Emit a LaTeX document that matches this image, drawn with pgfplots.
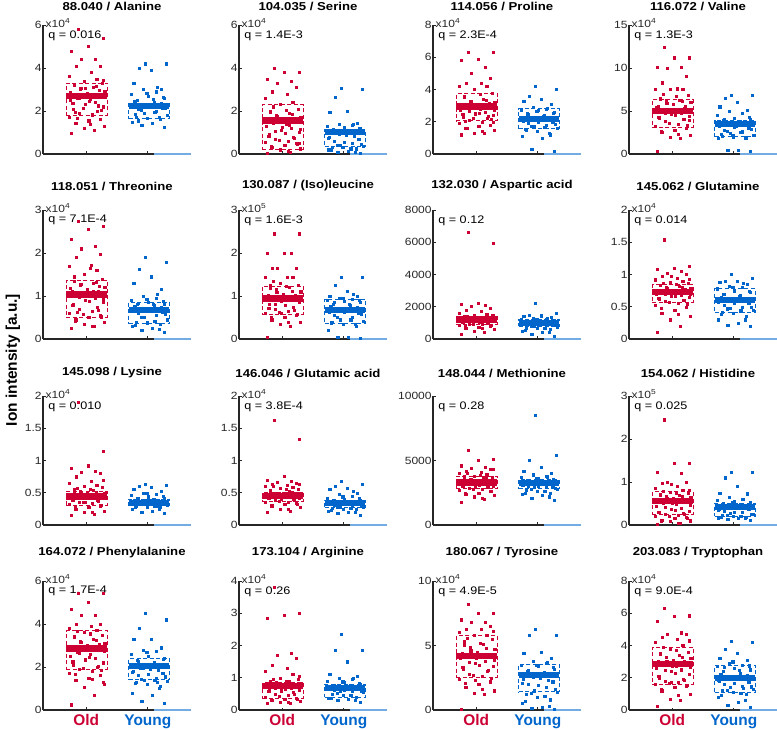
\documentclass[border=0pt]{standalone}
\usepackage{fontspec}
\setmainfont{Liberation Sans}
\newfontfamily\wfont{Liberation Sans}[FakeStretch=1.15]
\usepackage{pgfplots}
\pgfplotsset{compat=1.18}
\usepackage{pgfplotstable}
\definecolor{cold}{RGB}{204,0,51}
\definecolor{cyoung}{RGB}{0,102,204}
\definecolor{axc}{RGB}{38,38,38}

% each table: row j = horizontal jitter, row o = Old values, row y = Young values
\pgfplotstableread[header=false,row sep=\\]{
j -0.25 0.12 -0.05 0.28 -0.18 0.03 0.21 -0.29 0.08 -0.12 0.17 -0.22 0.26 -0.02 0.14 -0.27 0.05 -0.15 0.23 -0.08 0.19 -0.24 0.01 0.29 -0.11 0.10 -0.20 0.25 -0.04 0.16 -0.28 0.07 -0.17 0.22 -0.09 0.13 -0.26 0.02 0.27 -0.14 0.09 -0.19 0.24 -0.06 0.18 -0.23 0.04 -0.13 0.28 -0.01 0.11 -0.27 0.20 -0.10 0.15 -0.21 0.06 -0.16 0.26 -0.03\\
o 0.95 1.1 1.2 1.3 1.45 1.55 1.6 1.7 1.8 1.9 2.0 2.1 2.2 2.3 2.4 2.5 2.55 2.6 2.65 2.7 2.75 2.8 2.85 2.9 3.0 3.1 3.2 3.3 3.4 3.5 3.6 3.8 4.1 4.1 4.4 4.4 4.8 5.0 5.4 5.8 1.85 1.95 2.05 2.15 2.25 2.35 2.45 2.6 2.68 2.72 2.78 2.88 2.95 3.05 3.15 3.25 1.4 1.65 3.45 3.05\\
y 1.25 1.35 1.45 1.5 1.6 1.65 1.7 1.8 1.9 2.0 2.1 2.15 2.2 2.22 2.25 2.27 2.3 2.32 2.35 2.4 2.5 2.6 2.7 2.8 2.9 3.0 3.0 3.3 3.9 4.0 4.2 4.2 1.7 1.85 1.95 2.05 2.12 2.18 2.24 2.28 2.33 2.38 2.45 2.55 1.55 2.65 2.85 3.1 nan nan nan nan nan nan nan nan nan nan nan nan\\
}\rA
\pgfplotstableread[header=false,row sep=\\]{
j -0.25 0.12 -0.05 0.28 -0.18 0.03 0.21 -0.29 0.08 -0.12 0.17 -0.22 0.26 -0.02 0.14 -0.27 0.05 -0.15 0.23 -0.08 0.19 -0.24 0.01 0.29 -0.11 0.10 -0.20 0.25 -0.04 0.16 -0.28 0.07 -0.17 0.22 -0.09 0.13 -0.26 0.02 0.27 -0.14 0.09 -0.19 0.24 -0.06 0.18 -0.23 0.04 -0.13 0.28 -0.01 0.11 -0.27 0.20 -0.10 0.15 -0.21 0.06 -0.16 0.26 -0.03\\
o 0.05 0.1 0.2 0.25 0.3 0.4 0.5 0.55 0.6 0.7 0.8 0.9 1.0 1.1 1.2 1.3 1.4 1.45 1.5 1.55 1.6 1.62 1.65 1.7 1.8 1.9 2.0 2.1 2.3 2.4 2.6 2.8 2.9 3.1 3.3 3.4 3.5 3.8 3.8 4.0 0.15 0.35 0.45 0.65 0.75 0.85 0.95 1.05 1.15 1.25 1.35 1.52 1.58 1.75 1.85 1.95 2.05 2.2 0.5 1.6\\
y 0.05 0.1 0.15 0.2 0.25 0.3 0.3 0.35 0.4 0.5 0.6 0.7 0.8 0.9 0.95 1.0 1.0 1.02 1.05 1.1 1.15 1.2 1.25 1.3 1.35 1.4 1.45 1.95 2.0 2.65 3.0 3.05 0.1 0.2 0.25 0.4 0.45 0.55 0.75 0.85 0.92 0.98 1.03 1.08 1.12 1.2 0.3 1.4 nan nan nan nan nan nan nan nan nan nan nan nan\\
}\rB
\pgfplotstableread[header=false,row sep=\\]{
j -0.25 0.12 -0.05 0.28 -0.18 0.03 0.21 -0.29 0.08 -0.12 0.17 -0.22 0.26 -0.02 0.14 -0.27 0.05 -0.15 0.23 -0.08 0.19 -0.24 0.01 0.29 -0.11 0.10 -0.20 0.25 -0.04 0.16 -0.28 0.07 -0.17 0.22 -0.09 0.13 -0.26 0.02 0.27 -0.14 0.09 -0.19 0.24 -0.06 0.18 -0.23 0.04 -0.13 0.28 -0.01 0.11 -0.27 0.20 -0.10 0.15 -0.21 0.06 -0.16 0.26 -0.03\\
o 1.2 1.3 1.3 1.5 1.6 1.7 1.8 1.9 2.0 2.1 2.2 2.3 2.4 2.5 2.6 2.7 2.8 2.85 2.9 2.95 3.0 3.05 3.1 3.2 3.3 3.4 3.6 3.8 4.0 4.2 4.2 4.4 4.4 4.7 5.0 5.4 5.8 5.9 6.3 6.3 1.4 2.05 2.15 2.25 2.35 2.45 2.55 2.65 2.75 2.9 2.97 3.02 3.15 3.25 3.35 3.5 3.7 1.6 2.0 3.0\\
y 0.2 0.3 1.0 1.1 1.2 1.4 1.5 1.6 1.7 1.8 1.9 2.0 2.05 2.1 2.15 2.2 2.2 2.25 2.3 2.4 2.5 2.6 2.7 2.75 2.8 2.9 3.1 3.3 3.4 3.6 4.0 4.2 1.3 1.55 1.65 1.75 1.85 1.95 2.1 2.12 2.18 2.22 2.28 2.35 2.45 2.55 2.65 2.85 nan nan nan nan nan nan nan nan nan nan nan nan\\
}\rC
\pgfplotstableread[header=false,row sep=\\]{
j -0.25 0.12 -0.05 0.28 -0.18 0.03 0.21 -0.29 0.08 -0.12 0.17 -0.22 0.26 -0.02 0.14 -0.27 0.05 -0.15 0.23 -0.08 0.19 -0.24 0.01 0.29 -0.11 0.10 -0.20 0.25 -0.04 0.16 -0.28 0.07 -0.17 0.22 -0.09 0.13 -0.26 0.02 0.27 -0.14 0.09 -0.19 0.24 -0.06 0.18 -0.23 0.04 -0.13 0.28 -0.01 0.11 -0.27 0.20 -0.10 0.15 -0.21 0.06 -0.16 0.26 -0.03\\
o 0.3 1.8 2.0 2.2 2.5 2.8 3.0 3.2 3.5 3.8 4.0 4.2 4.4 4.6 4.8 4.9 5.0 5.0 5.1 5.2 5.3 5.5 5.8 6.0 6.2 6.3 6.5 6.8 7.5 7.5 7.5 7.6 8.3 9.1 10.0 10.1 10.1 11.2 11.2 12.4 2.3 2.7 3.3 3.6 4.1 4.3 4.5 4.7 4.95 5.05 5.15 5.4 5.6 5.9 6.1 6.4 6.7 7.0 3.9 4.85\\
y 0.3 0.4 0.4 1.8 1.9 2.0 2.1 2.2 2.4 2.6 2.8 3.0 3.2 3.3 3.4 3.5 3.5 3.6 3.7 3.8 3.9 4.0 4.2 4.5 4.8 5.0 5.1 5.5 6.0 6.5 6.8 6.8 1.9 2.3 2.5 2.7 2.9 3.1 3.35 3.45 3.55 3.65 3.75 3.85 4.1 4.3 2.2 3.5 nan nan nan nan nan nan nan nan nan nan nan nan\\
}\rD
\pgfplotstableread[header=false,row sep=\\]{
j -0.25 0.12 -0.05 0.28 -0.18 0.03 0.21 -0.29 0.08 -0.12 0.17 -0.22 0.26 -0.02 0.14 -0.27 0.05 -0.15 0.23 -0.08 0.19 -0.24 0.01 0.29 -0.11 0.10 -0.20 0.25 -0.04 0.16 -0.28 0.07 -0.17 0.22 -0.09 0.13 -0.26 0.02 0.27 -0.14 0.09 -0.19 0.24 -0.06 0.18 -0.23 0.04 -0.13 0.28 -0.01 0.11 -0.27 0.20 -0.10 0.15 -0.21 0.06 -0.16 0.26 -0.03\\
o 0.25 0.3 0.35 0.4 0.45 0.5 0.55 0.6 0.65 0.7 0.75 0.8 0.85 0.9 0.95 1.0 1.0 1.02 1.05 1.08 1.1 1.12 1.15 1.2 1.25 1.3 1.35 1.4 1.5 1.6 1.7 1.72 1.9 1.98 2.1 2.15 2.33 2.55 2.63 2.75 0.3 0.42 0.52 0.58 0.68 0.78 0.88 0.98 1.03 1.06 1.1 1.18 1.22 1.28 1.33 1.45 1.65 0.62 0.92 1.04\\
y 0.15 0.2 0.25 0.3 0.35 0.38 0.4 0.45 0.5 0.55 0.6 0.62 0.65 0.68 0.68 0.7 0.7 0.72 0.75 0.78 0.8 0.82 0.85 0.9 0.95 1.0 1.15 1.3 1.45 1.62 1.78 1.9 0.22 0.32 0.42 0.5 0.58 0.64 0.66 0.69 0.71 0.74 0.76 0.8 0.84 0.88 0.92 1.05 nan nan nan nan nan nan nan nan nan nan nan nan\\
}\rE
\pgfplotstableread[header=false,row sep=\\]{
j -0.25 0.12 -0.05 0.28 -0.18 0.03 0.21 -0.29 0.08 -0.12 0.17 -0.22 0.26 -0.02 0.14 -0.27 0.05 -0.15 0.23 -0.08 0.19 -0.24 0.01 0.29 -0.11 0.10 -0.20 0.25 -0.04 0.16 -0.28 0.07 -0.17 0.22 -0.09 0.13 -0.26 0.02 0.27 -0.14 0.09 -0.19 0.24 -0.06 0.18 -0.23 0.04 -0.13 0.28 -0.01 0.11 -0.27 0.20 -0.10 0.15 -0.21 0.06 -0.16 0.26 -0.03\\
o 0.05 0.3 0.35 0.4 0.45 0.5 0.55 0.6 0.65 0.7 0.75 0.8 0.85 0.88 0.9 0.92 0.94 0.95 0.96 0.98 1.0 1.02 1.05 1.1 1.15 1.2 1.25 1.25 1.3 1.43 1.43 1.43 1.65 1.65 1.65 2.0 2.0 2.0 2.45 2.45 0.4 0.5 0.58 0.62 0.68 0.72 0.78 0.82 0.9 0.93 0.97 0.99 1.03 1.08 1.12 1.18 1.22 1.35 0.95 0.6\\
y 0.03 0.05 0.05 0.2 0.3 0.35 0.4 0.42 0.45 0.5 0.55 0.6 0.62 0.65 0.68 0.68 0.7 0.72 0.75 0.78 0.8 0.85 0.88 0.9 0.92 0.95 1.0 1.0 1.12 1.25 1.43 1.43 0.35 0.38 0.45 0.5 0.58 0.63 0.66 0.69 0.7 0.73 0.76 0.82 0.86 0.9 0.95 1.05 nan nan nan nan nan nan nan nan nan nan nan nan\\
}\rF
\pgfplotstableread[header=false,row sep=\\]{
j -0.25 0.12 -0.05 0.28 -0.18 0.03 0.21 -0.29 0.08 -0.12 0.17 -0.22 0.26 -0.02 0.14 -0.27 0.05 -0.15 0.23 -0.08 0.19 -0.24 0.01 0.29 -0.11 0.10 -0.20 0.25 -0.04 0.16 -0.28 0.07 -0.17 0.22 -0.09 0.13 -0.26 0.02 0.27 -0.14 0.09 -0.19 0.24 -0.06 0.18 -0.23 0.04 -0.13 0.28 -0.01 0.11 -0.27 0.20 -0.10 0.15 -0.21 0.06 -0.16 0.26 -0.03\\
o 300 400 500 600 700 750 800 850 900 950 1000 1050 1080 1100 1120 1150 1180 1200 1200 1220 1250 1280 1300 1320 1350 1380 1400 1450 1500 1550 1600 1700 1800 1900 2050 2100 2150 2200 5950 6600 650 780 880 920 980 1020 1060 1090 1140 1170 1190 1210 1230 1260 1290 1330 1370 1420 1480 1200\\
y 200 300 400 500 600 650 700 750 800 850 900 920 950 980 1000 1000 1020 1050 1080 1100 1120 1150 1180 1200 1250 1300 1350 1400 1450 1500 1600 2200 450 550 700 780 850 880 940 970 990 1010 1040 1070 1110 1160 1220 1320 nan nan nan nan nan nan nan nan nan nan nan nan\\
}\rG
\pgfplotstableread[header=false,row sep=\\]{
j -0.25 0.12 -0.05 0.28 -0.18 0.03 0.21 -0.29 0.08 -0.12 0.17 -0.22 0.26 -0.02 0.14 -0.27 0.05 -0.15 0.23 -0.08 0.19 -0.24 0.01 0.29 -0.11 0.10 -0.20 0.25 -0.04 0.16 -0.28 0.07 -0.17 0.22 -0.09 0.13 -0.26 0.02 0.27 -0.14 0.09 -0.19 0.24 -0.06 0.18 -0.23 0.04 -0.13 0.28 -0.01 0.11 -0.27 0.20 -0.10 0.15 -0.21 0.06 -0.16 0.26 -0.03\\
o 0.1 0.2 0.3 0.35 0.4 0.45 0.5 0.52 0.55 0.58 0.6 0.62 0.65 0.67 0.68 0.7 0.71 0.72 0.72 0.73 0.74 0.75 0.76 0.78 0.8 0.82 0.84 0.86 0.88 0.9 0.92 0.95 0.98 1.0 1.02 1.05 1.08 1.1 1.13 1.54 0.38 0.48 0.54 0.57 0.6 0.63 0.66 0.69 0.7 0.71 0.73 0.74 0.77 0.79 0.81 0.83 0.85 0.87 0.93 0.97\\
y 0.2 0.22 0.25 0.3 0.35 0.4 0.42 0.45 0.48 0.5 0.53 0.55 0.58 0.6 0.6 0.61 0.62 0.63 0.65 0.68 0.7 0.72 0.75 0.78 0.8 0.82 0.85 0.88 0.9 0.9 0.95 1.0 0.3 0.38 0.44 0.47 0.5 0.55 0.57 0.59 0.61 0.62 0.64 0.66 0.7 0.74 0.8 0.86 nan nan nan nan nan nan nan nan nan nan nan nan\\
}\rH
\pgfplotstableread[header=false,row sep=\\]{
j -0.25 0.12 -0.05 0.28 -0.18 0.03 0.21 -0.29 0.08 -0.12 0.17 -0.22 0.26 -0.02 0.14 -0.27 0.05 -0.15 0.23 -0.08 0.19 -0.24 0.01 0.29 -0.11 0.10 -0.20 0.25 -0.04 0.16 -0.28 0.07 -0.17 0.22 -0.09 0.13 -0.26 0.02 0.27 -0.14 0.09 -0.19 0.24 -0.06 0.18 -0.23 0.04 -0.13 0.28 -0.01 0.11 -0.27 0.20 -0.10 0.15 -0.21 0.06 -0.16 0.26 -0.03\\
o 0.15 0.17 0.2 0.22 0.25 0.28 0.3 0.32 0.34 0.36 0.38 0.4 0.41 0.42 0.43 0.43 0.44 0.44 0.45 0.46 0.47 0.48 0.5 0.5 0.52 0.54 0.56 0.58 0.6 0.62 0.65 0.68 0.75 0.8 0.82 0.83 0.88 0.92 1.15 1.9 0.2 0.27 0.31 0.35 0.37 0.39 0.41 0.42 0.43 0.44 0.45 0.46 0.47 0.49 0.51 0.53 0.55 0.57 0.7 0.35\\
y 0.18 0.2 0.22 0.25 0.27 0.28 0.3 0.31 0.32 0.33 0.34 0.34 0.35 0.35 0.36 0.37 0.38 0.38 0.39 0.4 0.41 0.42 0.44 0.46 0.48 0.5 0.52 0.55 0.58 0.6 0.62 0.64 0.24 0.28 0.3 0.32 0.33 0.34 0.35 0.35 0.36 0.37 0.38 0.4 0.42 0.45 0.5 0.3 nan nan nan nan nan nan nan nan nan nan nan nan\\
}\rI
\pgfplotstableread[header=false,row sep=\\]{
j -0.25 0.12 -0.05 0.28 -0.18 0.03 0.21 -0.29 0.08 -0.12 0.17 -0.22 0.26 -0.02 0.14 -0.27 0.05 -0.15 0.23 -0.08 0.19 -0.24 0.01 0.29 -0.11 0.10 -0.20 0.25 -0.04 0.16 -0.28 0.07 -0.17 0.22 -0.09 0.13 -0.26 0.02 0.27 -0.14 0.09 -0.19 0.24 -0.06 0.18 -0.23 0.04 -0.13 0.28 -0.01 0.11 -0.27 0.20 -0.10 0.15 -0.21 0.06 -0.16 0.26 -0.03\\
o 0.2 0.22 0.25 0.28 0.3 0.32 0.34 0.35 0.36 0.38 0.4 0.41 0.42 0.43 0.44 0.45 0.45 0.46 0.46 0.47 0.48 0.48 0.49 0.5 0.5 0.52 0.53 0.55 0.57 0.58 0.6 0.62 0.64 0.65 0.66 0.68 0.7 0.76 1.33 1.62 0.24 0.3 0.33 0.37 0.39 0.41 0.43 0.44 0.45 0.46 0.47 0.48 0.49 0.5 0.51 0.54 0.56 0.6 0.63 0.4\\
y 0.15 0.18 0.2 0.22 0.24 0.25 0.26 0.27 0.28 0.3 0.31 0.32 0.33 0.33 0.34 0.34 0.35 0.35 0.36 0.37 0.38 0.39 0.4 0.42 0.45 0.48 0.5 0.55 0.57 0.6 0.64 0.68 0.2 0.23 0.26 0.28 0.3 0.32 0.33 0.34 0.34 0.35 0.36 0.37 0.38 0.41 0.44 0.52 nan nan nan nan nan nan nan nan nan nan nan nan\\
}\rJ
\pgfplotstableread[header=false,row sep=\\]{
j -0.25 0.12 -0.05 0.28 -0.18 0.03 0.21 -0.29 0.08 -0.12 0.17 -0.22 0.26 -0.02 0.14 -0.27 0.05 -0.15 0.23 -0.08 0.19 -0.24 0.01 0.29 -0.11 0.10 -0.20 0.25 -0.04 0.16 -0.28 0.07 -0.17 0.22 -0.09 0.13 -0.26 0.02 0.27 -0.14 0.09 -0.19 0.24 -0.06 0.18 -0.23 0.04 -0.13 0.28 -0.01 0.11 -0.27 0.20 -0.10 0.15 -0.21 0.06 -0.16 0.26 -0.03\\
o 1800 2000 2200 2300 2400 2500 2600 2700 2800 2850 2900 3000 3050 3100 3150 3200 3250 3300 3300 3350 3350 3400 3450 3500 3550 3600 3650 3700 3800 3900 4000 4100 4200 4300 4400 4500 4600 5050 5100 5800 2100 2450 2650 2750 2900 3000 3100 3200 3280 3320 3380 3420 3480 3550 3650 3750 3850 4050 4350 2950\\
y 1900 2100 2300 2400 2500 2600 2700 2800 2900 2950 3000 3050 3100 3150 3200 3220 3250 3300 3350 3400 3450 3500 3600 3700 3800 3900 4000 4200 4500 5000 5400 8500 2200 2450 2650 2750 2850 3000 3100 3180 3240 3280 3320 3380 3450 3550 3650 3750 nan nan nan nan nan nan nan nan nan nan nan nan\\
}\rK
\pgfplotstableread[header=false,row sep=\\]{
j -0.25 0.12 -0.05 0.28 -0.18 0.03 0.21 -0.29 0.08 -0.12 0.17 -0.22 0.26 -0.02 0.14 -0.27 0.05 -0.15 0.23 -0.08 0.19 -0.24 0.01 0.29 -0.11 0.10 -0.20 0.25 -0.04 0.16 -0.28 0.07 -0.17 0.22 -0.09 0.13 -0.26 0.02 0.27 -0.14 0.09 -0.19 0.24 -0.06 0.18 -0.23 0.04 -0.13 0.28 -0.01 0.11 -0.27 0.20 -0.10 0.15 -0.21 0.06 -0.16 0.26 -0.03\\
o 0.02 0.05 0.08 0.1 0.12 0.15 0.18 0.2 0.22 0.25 0.28 0.3 0.33 0.36 0.4 0.44 0.48 0.52 0.55 0.56 0.58 0.6 0.62 0.65 0.68 0.7 0.72 0.75 0.77 0.8 0.85 0.9 0.98 1.0 1.0 1.2 1.22 1.43 1.43 2.45 0.05 0.1 0.15 0.2 0.25 0.3 0.35 0.42 0.46 0.5 0.54 0.57 0.59 0.63 0.66 0.7 0.74 0.78 0.82 0.95\\
y 0.12 0.14 0.15 0.17 0.18 0.2 0.22 0.25 0.28 0.3 0.33 0.36 0.38 0.4 0.42 0.43 0.44 0.45 0.46 0.48 0.5 0.52 0.55 0.58 0.6 0.65 0.73 0.75 0.9 1.1 1.23 1.23 0.15 0.18 0.2 0.23 0.26 0.3 0.35 0.39 0.41 0.42 0.43 0.45 0.47 0.49 0.52 0.6 nan nan nan nan nan nan nan nan nan nan nan nan\\
}\rL
\pgfplotstableread[header=false,row sep=\\]{
j -0.25 0.12 -0.05 0.28 -0.18 0.03 0.21 -0.29 0.08 -0.12 0.17 -0.22 0.26 -0.02 0.14 -0.27 0.05 -0.15 0.23 -0.08 0.19 -0.24 0.01 0.29 -0.11 0.10 -0.20 0.25 -0.04 0.16 -0.28 0.07 -0.17 0.22 -0.09 0.13 -0.26 0.02 0.27 -0.14 0.09 -0.19 0.24 -0.06 0.18 -0.23 0.04 -0.13 0.28 -0.01 0.11 -0.27 0.20 -0.10 0.15 -0.21 0.06 -0.16 0.26 -0.03\\
o 0.25 0.7 1.05 1.2 1.4 1.5 1.6 1.7 1.8 1.9 2.0 2.1 2.2 2.3 2.4 2.5 2.6 2.7 2.8 2.85 2.9 2.95 3.0 3.1 3.2 3.3 3.4 3.5 3.6 3.7 3.8 3.9 4.0 4.0 4.4 4.4 4.7 5.0 5.45 5.45 1.45 1.65 1.85 1.95 2.05 2.25 2.45 2.65 2.75 2.82 2.88 2.92 3.05 3.15 3.25 3.45 3.55 3.65 1.3 2.35\\
y 0.3 0.4 0.7 0.8 1.1 1.2 1.3 1.35 1.4 1.5 1.6 1.7 1.8 1.9 1.95 2.0 2.05 2.1 2.15 2.2 2.3 2.4 2.5 2.6 2.75 2.8 2.9 3.3 3.3 3.8 4.2 4.5 1.0 1.25 1.4 1.45 1.55 1.65 1.75 1.85 1.97 2.02 2.08 2.12 2.25 2.35 2.7 1.3 nan nan nan nan nan nan nan nan nan nan nan nan\\
}\rM
\pgfplotstableread[header=false,row sep=\\]{
j -0.25 0.12 -0.05 0.28 -0.18 0.03 0.21 -0.29 0.08 -0.12 0.17 -0.22 0.26 -0.02 0.14 -0.27 0.05 -0.15 0.23 -0.08 0.19 -0.24 0.01 0.29 -0.11 0.10 -0.20 0.25 -0.04 0.16 -0.28 0.07 -0.17 0.22 -0.09 0.13 -0.26 0.02 0.27 -0.14 0.09 -0.19 0.24 -0.06 0.18 -0.23 0.04 -0.13 0.28 -0.01 0.11 -0.27 0.20 -0.10 0.15 -0.21 0.06 -0.16 0.26 -0.03\\
o 0.2 0.22 0.25 0.28 0.3 0.33 0.36 0.4 0.45 0.5 0.55 0.6 0.62 0.65 0.68 0.7 0.7 0.72 0.74 0.75 0.76 0.78 0.8 0.82 0.85 0.88 0.9 0.95 1.0 1.1 1.2 1.3 1.4 1.6 1.7 1.75 2.85 2.95 3.0 3.8 0.25 0.3 0.35 0.42 0.5 0.58 0.64 0.68 0.71 0.73 0.75 0.76 0.77 0.79 0.81 0.84 0.9 0.97 1.05 0.6\\
y 0.25 0.3 0.33 0.36 0.4 0.45 0.5 0.55 0.58 0.6 0.62 0.65 0.67 0.68 0.69 0.7 0.71 0.72 0.74 0.76 0.78 0.8 0.85 0.9 0.95 1.0 1.05 1.1 1.5 1.85 1.85 2.35 0.3 0.38 0.45 0.52 0.58 0.63 0.66 0.68 0.7 0.71 0.73 0.75 0.78 0.82 0.88 1.0 nan nan nan nan nan nan nan nan nan nan nan nan\\
}\rN
\pgfplotstableread[header=false,row sep=\\]{
j -0.25 0.12 -0.05 0.28 -0.18 0.03 0.21 -0.29 0.08 -0.12 0.17 -0.22 0.26 -0.02 0.14 -0.27 0.05 -0.15 0.23 -0.08 0.19 -0.24 0.01 0.29 -0.11 0.10 -0.20 0.25 -0.04 0.16 -0.28 0.07 -0.17 0.22 -0.09 0.13 -0.26 0.02 0.27 -0.14 0.09 -0.19 0.24 -0.06 0.18 -0.23 0.04 -0.13 0.28 -0.01 0.11 -0.27 0.20 -0.10 0.15 -0.21 0.06 -0.16 0.26 -0.03\\
o 0.1 1.2 1.3 1.5 1.8 2.0 2.2 2.4 2.6 2.8 3.0 3.2 3.4 3.6 3.8 4.0 4.1 4.15 4.2 4.25 4.3 4.4 4.5 4.7 4.9 5.1 5.3 5.5 5.8 5.8 6.0 6.3 6.3 6.5 6.8 6.8 7.0 7.5 7.5 8.2 1.6 2.1 2.5 2.7 3.1 3.3 3.5 3.7 3.9 4.05 4.2 4.3 4.35 4.6 4.8 5.0 5.2 5.6 6.1 2.3\\
y 0.1 0.15 0.2 0.5 0.8 1.0 1.2 1.4 1.5 1.8 2.0 2.2 2.4 2.5 2.6 2.65 2.7 2.75 2.8 2.9 3.0 3.2 3.4 3.5 3.6 3.8 4.0 4.4 4.5 5.8 5.8 6.3 0.3 0.7 1.1 1.3 1.6 1.9 2.1 2.3 2.55 2.68 2.72 2.85 3.1 3.3 3.45 3.7 nan nan nan nan nan nan nan nan nan nan nan nan\\
}\rO
\pgfplotstableread[header=false,row sep=\\]{
j -0.25 0.12 -0.05 0.28 -0.18 0.03 0.21 -0.29 0.08 -0.12 0.17 -0.22 0.26 -0.02 0.14 -0.27 0.05 -0.15 0.23 -0.08 0.19 -0.24 0.01 0.29 -0.11 0.10 -0.20 0.25 -0.04 0.16 -0.28 0.07 -0.17 0.22 -0.09 0.13 -0.26 0.02 0.27 -0.14 0.09 -0.19 0.24 -0.06 0.18 -0.23 0.04 -0.13 0.28 -0.01 0.11 -0.27 0.20 -0.10 0.15 -0.21 0.06 -0.16 0.26 -0.03\\
o 0.25 0.6 0.7 1.0 1.2 1.4 1.5 1.6 1.7 1.8 1.9 2.0 2.2 2.4 2.5 2.6 2.7 2.8 2.85 2.9 3.0 3.0 3.1 3.2 3.3 3.4 3.5 3.6 3.8 4.0 4.2 4.4 4.5 4.7 4.7 4.8 5.5 5.8 5.85 6.3 0.9 1.3 1.55 1.65 1.85 2.1 2.3 2.45 2.65 2.75 2.82 2.9 2.95 3.05 3.25 3.45 3.7 3.9 4.3 1.75\\
y 0.2 0.3 0.5 0.8 1.0 1.1 1.2 1.3 1.4 1.5 1.6 1.7 1.8 1.9 1.95 2.0 2.05 2.1 2.2 2.3 2.4 2.5 2.6 2.7 2.8 2.9 3.1 3.2 3.5 3.8 4.2 4.25 0.6 0.9 1.05 1.25 1.45 1.65 1.85 1.97 2.02 2.15 2.25 2.45 2.65 2.75 3.0 1.35 nan nan nan nan nan nan nan nan nan nan nan nan\\
}\rP
\pgfplotstabletranspose[colnames from=0]\tA\rA
\pgfplotstabletranspose[colnames from=0]\tB\rB
\pgfplotstabletranspose[colnames from=0]\tC\rC
\pgfplotstabletranspose[colnames from=0]\tD\rD
\pgfplotstabletranspose[colnames from=0]\tE\rE
\pgfplotstabletranspose[colnames from=0]\tF\rF
\pgfplotstabletranspose[colnames from=0]\tG\rG
\pgfplotstabletranspose[colnames from=0]\tH\rH
\pgfplotstabletranspose[colnames from=0]\tI\rI
\pgfplotstabletranspose[colnames from=0]\tJ\rJ
\pgfplotstabletranspose[colnames from=0]\tK\rK
\pgfplotstabletranspose[colnames from=0]\tL\rL
\pgfplotstabletranspose[colnames from=0]\tM\rM
\pgfplotstabletranspose[colnames from=0]\tN\rN
\pgfplotstabletranspose[colnames from=0]\tO\rO
\pgfplotstabletranspose[colnames from=0]\tP\rP

\pgfplotsset{
  panel/.style={
    scale only axis, width=148bp, height=129bp,
    anchor=south west,
    xmin=0.3, xmax=2.7, ymin=0,
    axis x line*=bottom, axis y line*=left,
    axis line style={axc, line width=1.1bp, -},
    xtick={1,2}, xticklabels={},
    tick style={axc, line width=0.9bp},
    major tick length=2.5bp,
    tick align=inside,
    yticklabel style={font=\wfont\fontsize{10.5}{12}\selectfont, text=axc, inner sep=1.2bp},
    /pgf/number format/assume math mode=true,
    /pgf/number format/1000 sep={},
    scaled y ticks=false,
    title style={font=\wfont\bfseries\fontsize{11.5}{13}\selectfont, at={(0.5,1)}, anchor=center, xshift=-5bp},
    clip=false,
  },
  r1/.style={title style={yshift=12.5bp}},
  r2/.style={title style={yshift=18bp}},
  r3/.style={title style={yshift=17bp}},
  r4/.style={title style={yshift=22bp},
    xticklabels={\textcolor{cold}{Old},\textcolor{cyoung}{Young}},
    xticklabel style={font=\bfseries\fontsize{15.5}{17}\selectfont, inner sep=1bp, yshift=-3.5bp}},
}

% box (dashed IQR) and median bar: Old q1, median, q3, Young q1, median, q3
\newcommand\bx[6]{%
  \addplot[cyoung!55, line width=1.1bp] coordinates {(2.1,0) (2.7,0)};
  \addplot[cold, line width=0.9bp, dash pattern=on 4bp off 2.5bp] coordinates {(0.68,#1) (1.34,#1) (1.34,#3) (0.68,#3) (0.68,#1)};
  \addplot[cold, line width=6.5bp] coordinates {(0.68,#2) (1.34,#2)};
  \addplot[cyoung, line width=0.9bp, dash pattern=on 4bp off 2.5bp] coordinates {(1.69,#4) (2.35,#4) (2.35,#6) (1.69,#6) (1.69,#4)};
  \addplot[cyoung, line width=6bp] coordinates {(1.69,#5) (2.35,#5)};
}
\newcommand\pts[1]{%
  \addplot[only marks, mark=square*, mark size=1.05bp, mark options={line width=0.3bp}, cold] table[x expr=1.01+\thisrow{j}, y=o] {#1};
  \addplot[only marks, mark=square*, mark size=1.05bp, mark options={line width=0.3bp}, cyoung] table[x expr=2.02-\thisrow{j}, y=y] {#1};
}
\newcommand\mult[1]{\node[anchor=west, inner sep=0, xshift=2.5bp, yshift=2bp, text=axc, font=\wfont\fontsize{10.5}{12}\selectfont] at (rel axis cs:0,1) {x10\textsuperscript{#1}};}
\newcommand\qq[1]{\node[anchor=west, inner sep=0, font=\wfont\fontsize{11}{13}\selectfont] at (rel axis cs:0.035,0.92) {q = #1};}

\begin{document}
\begin{tikzpicture}
\useasboundingbox (0,0) rectangle (777bp,730bp);
% ---- row 1
\begin{axis}[panel, r1, at={(43bp,576bp)}, title={88.040 / Alanine}, ymax=6, ytick={0,2,4,6}]
\bx{1.8}{2.7}{3.3}{1.64}{2.25}{2.37}\pts{\tA}\mult{4}\qq{0.016}
\end{axis}
\begin{axis}[panel, r1, at={(239bp,576bp)}, title={104.035 / Serine}, ymax=6, ytick={0,2,4,6}]
\bx{0.2}{1.55}{2.3}{0.33}{1.0}{1.15}\pts{\tB}\mult{4}\qq{1.4E-3}
\end{axis}
\begin{axis}[panel, r1, at={(433bp,576bp)}, title={114.056 / Proline}, ymax=8, ytick={0,2,4,6,8}]
\bx{2.05}{2.95}{3.77}{1.58}{2.15}{2.8}\pts{\tC}\mult{4}\qq{2.3E-4}
\end{axis}
\begin{axis}[panel, r1, at={(629bp,576bp)}, title={116.072 / Valine}, ymax=15, ytick={0,5,10,15}]
\bx{3.1}{5.0}{6.3}{2.0}{3.5}{3.9}\pts{\tD}\mult{4}\qq{1.3E-3}
\end{axis}
% ---- row 2
\begin{axis}[panel, r2, at={(43bp,391bp)}, title={118.051 / Threonine}, ymax=3, ytick={0,1,2,3}]
\bx{0.51}{1.03}{1.37}{0.35}{0.68}{0.86}\pts{\tE}\mult{4}\qq{7.1E-4}
\end{axis}
\begin{axis}[panel, r2, at={(239bp,391bp)}, title={130.087 / (Iso)leucine}, ymax=3, ytick={0,1,2,3}]
\bx{0.57}{0.94}{1.23}{0.37}{0.68}{0.92}\pts{\tF}\mult{5}\qq{1.6E-3}
\end{axis}
\begin{axis}[panel, r2, at={(433bp,391bp)}, title={132.030 / Aspartic acid}, ymax=8000, ytick={0,2000,4000,6000,8000}]
\bx{900}{1200}{1400}{800}{1000}{1200}\pts{\tG}\qq{0.12}
\end{axis}
\begin{axis}[panel, r2, at={(629bp,391bp)}, title={145.062 / Glutamine}, ymax=2, ytick={0,0.5,1,1.5,2}]
\bx{0.57}{0.725}{0.84}{0.41}{0.6}{0.78}\pts{\tH}\mult{4}\qq{0.014}
\end{axis}
% ---- row 3
\begin{axis}[panel, r3, at={(43bp,205bp)}, title={145.098 / Lysine}, ymax=2, ytick={0,0.5,1,1.5,2}]
\bx{0.31}{0.44}{0.52}{0.3}{0.345}{0.4}\pts{\tI}\mult{4}\qq{0.010}
\end{axis}
\begin{axis}[panel, r3, at={(239bp,205bp)}, title={146.046 / Glutamic acid}, ymax=2, ytick={0,0.5,1,1.5,2}]
\bx{0.36}{0.45}{0.5}{0.27}{0.335}{0.38}\pts{\tJ}\mult{4}\qq{3.8E-4}
\end{axis}
\begin{axis}[panel, r3, at={(433bp,205bp)}, title={148.044 / Methionine}, ymax=10000, ytick={0,5000,10000}]
\bx{2800}{3300}{3800}{2800}{3220}{3500}\pts{\tK}\qq{0.28}
\end{axis}
\begin{axis}[panel, r3, at={(629bp,205bp)}, title={154.062 / Histidine}, ymax=3, ytick={0,1,2,3}]
\bx{0.25}{0.557}{0.77}{0.2}{0.425}{0.5}\pts{\tL}\mult{5}\qq{0.025}
\end{axis}
% ---- row 4
\begin{axis}[panel, r4, at={(43bp,20bp)}, title={164.072 / Phenylalanine}, ymax=6, ytick={0,2,4,6}]
\bx{1.88}{2.85}{3.68}{1.4}{2.03}{2.4}\pts{\tM}\mult{4}\qq{1.7E-4}
\end{axis}
\begin{axis}[panel, r4, at={(239bp,20bp)}, title={173.104 / Arginine}, ymax=4, ytick={0,1,2,3,4}]
\bx{0.36}{0.75}{0.85}{0.4}{0.69}{0.8}\pts{\tN}\mult{4}\qq{0.26}
\end{axis}
\begin{axis}[panel, r4, at={(433bp,20bp)}, title={180.067 / Tyrosine}, ymax=10, ytick={0,5,10}]
\bx{2.5}{4.2}{5.75}{1.4}{2.7}{3.55}\pts{\tO}\mult{4}\qq{4.9E-5}
\end{axis}
\begin{axis}[panel, r4, at={(629bp,20bp)}, title={203.083 / Tryptophan}, ymax=8, ytick={0,2,4,6,8}]
\bx{1.6}{2.85}{3.9}{1.1}{2.0}{2.75}\pts{\tP}\mult{4}\qq{9.0E-4}
\end{axis}
\node[rotate=90, font=\bfseries\fontsize{15.5}{17}\selectfont] at (13bp,370bp) {Ion intensity [a.u.]};
\end{tikzpicture}
\end{document}
